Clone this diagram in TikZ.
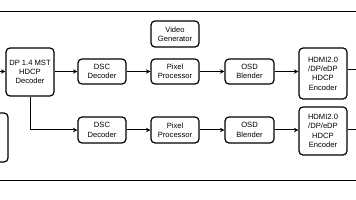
\documentclass[tikz,border=0pt]{standalone}
\usepackage{fontspec}
\setmainfont{Liberation Sans}
\usetikzlibrary{arrows.meta}
\begin{document}
\begin{tikzpicture}[x=1pt,y=-1pt,
  blk/.style={draw=black,line width=1.2pt,rounded corners=4pt,fill=white,align=center,
    font=\fontsize{7.6}{9.3}\selectfont,inner sep=0pt},
  conn/.style={line width=1pt,-{Stealth[length=4.5pt,width=4.5pt]}},
  plain/.style={line width=1pt}]
\useasboundingbox (0,0) rectangle (356,200);
\clip (0,0) rectangle (356,200);
\fill[white] (0,0) rectangle (356,200);
\draw[line width=0.9pt] (0,11) -- (356,11);
\draw[line width=0.9pt] (0,180) -- (356,180);
% partial box at left
\node[blk,minimum width=30pt,minimum height=49pt] (leftbox) at (-7,137.5) {};
\coordinate (inL) at (0,71.5);
\node[blk,minimum width=48pt,minimum height=48pt] (dp) at (30,72) {DP 1.4 MST\\HDCP\\Decoder};
\node[blk,minimum width=48pt,minimum height=26pt] (vg) at (175,34) {Video\\Generator};
\node[blk,minimum width=48pt,minimum height=25pt] (dsc1) at (102,71.5) {DSC\\Decoder};
\node[blk,minimum width=48pt,minimum height=25pt] (pp1) at (175,71.5) {Pixel\\Processor};
\node[blk,minimum width=49pt,minimum height=25pt] (osd1) at (249.5,71.5) {OSD\\Blender};
\node[blk,minimum width=48pt,minimum height=51pt] (enc1) at (323,73.5) {HDMI2.0\\/DP/eDP\\HDCP\\Encoder};
\node[blk,minimum width=48pt,minimum height=26pt] (dsc2) at (102,130) {DSC\\Decoder};
\node[blk,minimum width=48pt,minimum height=26pt] (pp2) at (175,130) {Pixel\\Processor};
\node[blk,minimum width=49pt,minimum height=26pt] (osd2) at (249.5,130) {OSD\\Blender};
\node[blk,minimum width=48pt,minimum height=48pt] (enc2) at (323,131) {HDMI2.0\\/DP/eDP\\HDCP\\Encoder};
\coordinate (out1) at (356,70);
\coordinate (out2) at (356,130);
\draw[conn] (inL) -- (dp.west |- inL);
\draw[conn] (dp.east |- dsc1) -- (dsc1.west);
\draw[conn] (dsc1) -- (pp1);
\draw[conn] (pp1) -- (osd1);
\draw[conn] (osd1.east) -- (enc1.west |- osd1);
\draw[plain] (enc1.east |- out1) -- (out1);
\draw[conn] (dp.south) -- (dp.south |- dsc2) -- (dsc2.west);
\draw[conn] (dsc2) -- (pp2);
\draw[conn] (pp2) -- (osd2);
\draw[conn] (osd2.east) -- (enc2.west |- osd2);
\draw[plain] (enc2.east |- out2) -- (out2);
\end{tikzpicture}
\end{document}
